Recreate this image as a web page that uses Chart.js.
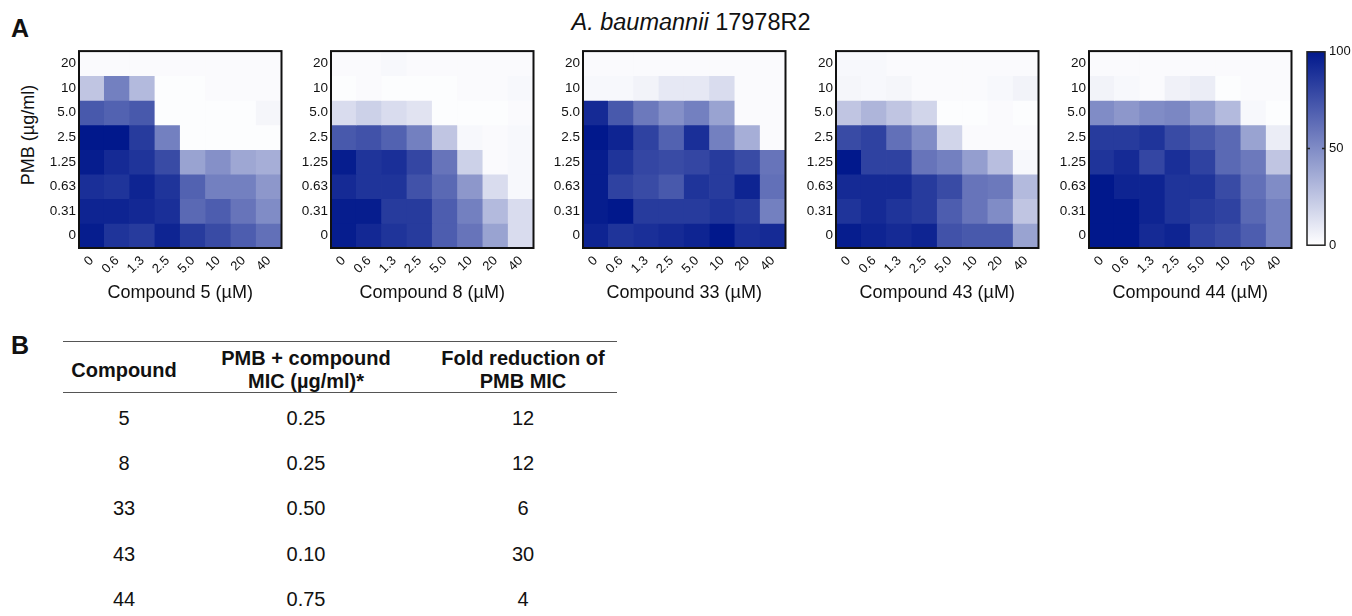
<!DOCTYPE html>
<html>
<head>
<meta charset="utf-8">
<script src="https://cdn.jsdelivr.net/npm/chart.js@4.4.1/dist/chart.umd.min.js"></script>
<style>
  html, body { margin: 0; padding: 0; background: #fff; }
  body { width: 1352px; height: 616px; position: relative; overflow: hidden;
         font-family: "Liberation Sans", Arial, Helvetica, sans-serif; color: #111; }
  .abs { position: absolute; }
  canvas { position: absolute; }
  .panel { font-weight: bold; font-size: 25px; line-height: 30px; }
  .title { font-size: 23.5px; line-height: 28px; width: 500px; text-align: center; }
  .ytitle { font-size: 18px; line-height: 22px; width: 140px; text-align: center; transform: rotate(-90deg); }
  .rule { position: absolute; height: 0; border-top: 1.5px solid #555; }
  .cell { position: absolute; text-align: center; font-size: 20px; line-height: 24px; }
  .hdr { font-weight: bold; }
</style>
</head>
<body>
<div class="abs panel" style="left:11px; top:13px;">A</div>
<div class="abs title" style="left:441px; top:8px;"><i>A. baumannii</i> 17978R2</div>
<div class="abs ytitle" style="left:-42px; top:124px;">PMB (µg/ml)</div>
<div class="abs panel" style="left:11px; top:330px;">B</div>
<div id="charts"></div>
<div id="table"></div>

<script>
// ---------------- DATA ----------------
const compoundConc = ['0', '0.6', '1.3', '2.5', '5.0', '10', '20', '40'];      // x categories (µM)
const pmbConc = ['20', '10', '5.0', '2.5', '1.25', '0.63', '0.31', '0'];       // y rows, top to bottom (µg/ml)
const compoundNames = ['5', '8', '33', '43', '44'];

// % growth, rows top (PMB 20) to bottom (PMB 0), columns compound 0 .. 40
const growthCompound5 = [
  [2, 2, 2, 2, 2, 2, 2, 2],
  [25, 55, 30, 1, 1, 2, 2, 2],
  [72, 68, 72, 1, 1, 1, 1, 4],
  [100, 100, 85, 55, 1, 1, 1, 1],
  [98, 92, 88, 78, 40, 48, 38, 35],
  [90, 88, 95, 88, 68, 55, 55, 45],
  [95, 95, 93, 90, 65, 70, 60, 50],
  [98, 88, 85, 95, 85, 78, 70, 62]
];
const growthCompound8 = [
  [2, 2, 3, 2, 2, 2, 2, 2],
  [1, 2, 1, 1, 1, 2, 2, 3],
  [15, 20, 15, 12, 1, 1, 1, 2],
  [72, 75, 68, 55, 25, 3, 2, 3],
  [98, 88, 90, 80, 60, 20, 2, 3],
  [92, 88, 88, 75, 65, 45, 15, 3],
  [98, 98, 85, 85, 70, 55, 30, 15],
  [98, 93, 88, 85, 70, 60, 40, 15]
];
const growthCompound33 = [
  [2, 2, 2, 2, 2, 2, 2, 2],
  [3, 3, 5, 10, 10, 15, 2, 2],
  [92, 72, 58, 48, 55, 40, 2, 2],
  [100, 95, 82, 68, 90, 55, 35, 2],
  [98, 88, 80, 78, 80, 85, 78, 60],
  [98, 82, 78, 72, 88, 85, 95, 62],
  [98, 100, 85, 85, 85, 88, 85, 55],
  [95, 88, 90, 92, 95, 100, 90, 92]
];
const growthCompound43 = [
  [3, 3, 2, 2, 2, 2, 2, 2],
  [4, 3, 4, 2, 2, 2, 3, 5],
  [25, 32, 25, 18, 1, 1, 2, 1],
  [78, 82, 62, 50, 18, 2, 2, 2],
  [100, 82, 82, 60, 55, 42, 28, 3],
  [92, 92, 92, 85, 78, 60, 58, 30],
  [88, 92, 88, 85, 70, 60, 50, 25],
  [98, 95, 92, 95, 75, 72, 72, 40]
];
const growthCompound44 = [
  [2, 2, 2, 2, 2, 2, 2, 2],
  [5, 3, 2, 6, 8, 1, 2, 2],
  [50, 45, 50, 52, 42, 30, 3, 1],
  [85, 85, 88, 78, 72, 65, 40, 8],
  [88, 92, 80, 90, 82, 65, 58, 25],
  [100, 95, 95, 88, 88, 78, 62, 50],
  [100, 100, 95, 88, 85, 82, 65, 55],
  [100, 100, 92, 95, 82, 78, 70, 55]
];
const colorbarTicks = [0, 50, 100];

// table B
const tableCompound = ['5', '8', '33', '43', '44'];
const tableMIC = ['0.25', '0.25', '0.50', '0.10', '0.75'];
const tableFold = ['12', '12', '6', '30', '4'];

// ---------------- RENDER ----------------
const FONT = '"Liberation Sans", Arial, Helvetica, sans-serif';
Chart.defaults.font.family = FONT;
Chart.defaults.color = '#111';

const LOW = [255, 255, 255], HIGH = [1, 24, 140];
function colorFor(v) {
  const t = Math.max(0, Math.min(1, v / 100));
  const c = LOW.map((l, i) => Math.round(l + (HIGH[i] - l) * t));
  return `rgb(${c[0]},${c[1]},${c[2]})`;
}

const frame = {
  id: 'frame',
  afterDatasetsDraw(chart) {
    const a = chart.chartArea, ctx = chart.ctx;
    ctx.save();
    ctx.strokeStyle = '#111';
    ctx.lineWidth = 2;
    ctx.strokeRect(a.left, a.top, a.right - a.left, a.bottom - a.top);
    ctx.restore();
  }
};

const allGrowth = [growthCompound5, growthCompound8, growthCompound33, growthCompound43, growthCompound44];
const areaLeft = [79, 331, 583, 836, 1089];
const AREA_W = 204, AREA_TOP = 49, AREA_H = 199, XAXIS_H = 58, CANVAS_TOP = 40;
const holder = document.getElementById('charts');

allGrowth.forEach((grid, k) => {
  const yW = 60;
  const cv = document.createElement('canvas');
  const W = yW + AREA_W + 2, H = (AREA_TOP - CANVAS_TOP) + AREA_H + XAXIS_H;
  cv.width = W; cv.height = H;
  cv.style.left = (areaLeft[k] - yW) + 'px';
  cv.style.top = CANVAS_TOP + 'px';
  cv.style.width = W + 'px'; cv.style.height = H + 'px';
  holder.appendChild(cv);

  const n = pmbConc.length;
  const datasets = grid.map((row, r) => {
    const idx = n - 1 - r; // from bottom
    return {
      label: 'PMB ' + pmbConc[r],
      data: row.map(() => [idx, idx + 1]),
      backgroundColor: row.map(colorFor),
      borderWidth: 0,
      barPercentage: 1,
      categoryPercentage: 1,
      grouped: false
    };
  });

  new Chart(cv, {
    type: 'bar',
    data: { labels: compoundConc, datasets },
    options: {
      responsive: false,
      animation: false,
      events: [],
      layout: { padding: { top: AREA_TOP - CANVAS_TOP, right: 2, left: 0, bottom: 0 } },
      plugins: { legend: { display: false }, tooltip: { enabled: false } },
      scales: {
        x: {
          type: 'category',
          grid: { display: false, drawTicks: false },
          border: { display: false },
          ticks: { autoSkip: false, minRotation: 45, maxRotation: 45, padding: 5, font: { size: 13 }, color: '#111' },
          title: { display: true, text: 'Compound ' + compoundNames[k] + ' (µM)', font: { size: 18 }, color: '#111', padding: { top: 2, bottom: 2 } },
          afterFit(s) { s.height = XAXIS_H; }
        },
        y: {
          type: 'linear', min: 0, max: n,
          grid: { display: false, drawTicks: false },
          border: { display: false },
          afterBuildTicks(s) { s.ticks = pmbConc.map((_, i) => ({ value: i + 0.5 })); },
          ticks: {
            padding: 3, font: { size: 13.5 }, color: '#111',
            callback: (v) => pmbConc[n - 1 - Math.floor(v)]
          },
          afterFit(s) { s.width = yW; }
        }
      }
    },
    plugins: [frame]
  });
});

// colorbar
(function () {
  const cv = document.createElement('canvas');
  const left = 1300, top = 40, padL = 7, barW = 18, axW = 27;
  const padT = 11, barH = 197;
  const W = padL + barW + axW, H = padT + barH + 9;
  cv.width = W; cv.height = H;
  cv.style.left = left + 'px'; cv.style.top = top + 'px';
  cv.style.width = W + 'px'; cv.style.height = H + 'px';
  holder.appendChild(cv);
  new Chart(cv, {
    type: 'bar',
    data: {
      labels: ['scale'],
      datasets: [{
        data: [[colorbarTicks[0], colorbarTicks[colorbarTicks.length - 1]]],
        barPercentage: 1, categoryPercentage: 1, borderWidth: 0,
        backgroundColor(ctx) {
          const a = ctx.chart.chartArea;
          if (!a) return colorFor(50);
          const g = ctx.chart.ctx.createLinearGradient(0, a.bottom, 0, a.top);
          for (let i = 0; i <= 10; i++) g.addColorStop(i / 10, colorFor(i * 10));
          return g;
        }
      }]
    },
    options: {
      responsive: false, animation: false, events: [],
      layout: { padding: { top: padT, bottom: 9, left: padL, right: 0 } },
      plugins: { legend: { display: false }, tooltip: { enabled: false } },
      scales: {
        x: { display: false },
        y: {
          position: 'right', min: 0, max: 100,
          afterBuildTicks(s) { s.ticks = colorbarTicks.map(v => ({ value: v })); },
          grid: { display: false, drawTicks: false },
          border: { display: false },
          ticks: { padding: 4, font: { size: 13 }, color: '#111' },
          afterFit(s) { s.width = axW; }
        }
      }
    },
    plugins: [{
      id: 'cbframe',
      afterDatasetsDraw(chart) {
        const a = chart.chartArea, ctx = chart.ctx;
        ctx.save(); ctx.strokeStyle = '#222'; ctx.lineWidth = 1.5;
        ctx.strokeRect(a.left, a.top, a.right - a.left, a.bottom - a.top);
        const y50 = chart.scales.y.getPixelForValue(50);
        ctx.beginPath();
        ctx.moveTo(a.left, y50); ctx.lineTo(a.left + 3, y50);
        ctx.moveTo(a.right - 3, y50); ctx.lineTo(a.right, y50);
        ctx.stroke();
        ctx.restore();
      }
    }]
  });
})();

// table B
(function () {
  const t = document.getElementById('table');
  const colX = [124, 306, 523];
  const colW = 240;
  function put(text, cx, cy, bold) {
    const d = document.createElement('div');
    d.className = 'cell' + (bold ? ' hdr' : '');
    d.style.left = (cx - colW / 2) + 'px';
    d.style.width = colW + 'px';
    d.style.top = (cy - 12) + 'px';
    d.textContent = text;
    t.appendChild(d);
  }
  function rule(y) {
    const r = document.createElement('div');
    r.className = 'rule';
    r.style.left = '63px'; r.style.width = '554px'; r.style.top = y + 'px';
    t.appendChild(r);
  }
  rule(341);
  rule(392);
  put('Compound', colX[0], 370, true);
  put('PMB + compound', colX[1], 358, true);
  put('MIC (µg/ml)*', colX[1], 381, true);
  put('Fold reduction of', colX[2], 358, true);
  put('PMB MIC', colX[2], 381, true);
  const rowY = [418, 463, 508, 554, 599];
  tableCompound.forEach((c, i) => {
    put(c, colX[0], rowY[i], false);
    put(tableMIC[i], colX[1], rowY[i], false);
    put(tableFold[i], colX[2], rowY[i], false);
  });
})();
</script>
</body>
</html>
